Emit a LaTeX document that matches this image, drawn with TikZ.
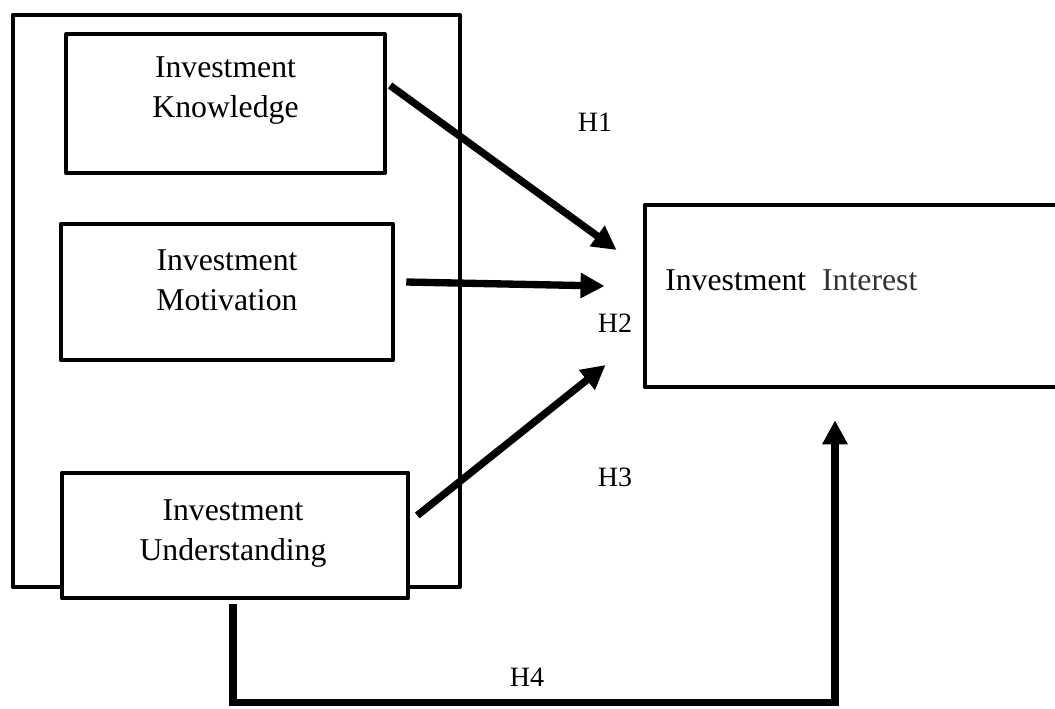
\documentclass[tikz,border=0pt]{standalone}
\usepackage{fontspec}
\setmainfont{Liberation Serif}
\usetikzlibrary{arrows.meta,calc}

\begin{document}
\begin{tikzpicture}[x=0.75pt,y=-0.75pt,
        every node/.style={font=\fontsize{23.8}{30}\selectfont},
        varbox/.style={draw,line width=3.4pt,line join=round,fill=white,inner sep=0pt},
        boxtext/.style={align=center},
        hlabel/.style={font=\fontsize{21}{24}\selectfont},
        arr/.style={line width=5.5pt,-{Triangle[length=18pt,width=18pt]}}]
        \useasboundingbox (0,0) rectangle (1055,708);

        % frame round the independent variables
        \draw[line width=3pt,line join=round] (12.5,15) rectangle (460,587);

        \node[varbox,minimum width=239pt,minimum height=104pt] (know) at (225.5,103.5) {};
        \node[boxtext] at ($(know)+(0,-13)$) {Investment\\Knowledge};

        \node[varbox,minimum width=249pt,minimum height=102pt] (moti) at (227,292) {};
        \node[boxtext] at ($(moti)+(0,-12)$) {Investment\\Motivation};

        \node[varbox,minimum width=259.5pt,minimum height=94pt] (under) at (235,535.5) {};
        \node[boxtext] at ($(under)+(-2,-2)$) {Investment\\Understanding};

        \node[varbox,minimum width=313pt,minimum height=136.5pt] (interest) at (853.5,296) {};
        \node[anchor=west] at ($(interest.west)+(18,-16)$) {Investment\ \ \textcolor{black!80}{Interest}};

        % hypotheses
        \draw[arr] ($(know.east)+(3,-18)$) -- ($(interest.west)+(-26,-46)$);
        \draw[arr] ($(moti.east)+(11,-10)$) -- ($(interest.west)+(-38,-10)$);
        \draw[arr] ($(under.east)+(7,-20)$) -- ($(interest.west)+(-37,69)$);
        \draw[arr] ($(under.south)+(-2,4)$) -- ++(0,98) -| ($(interest.south)+(-18.5,31)$);

        \node[hlabel] (h1) at (595,122) {H1};
        \node[hlabel] (h2) at (615,323) {H2};
        \node[hlabel] (h3) at (615,477) {H3};
        \node[hlabel] (h4) at (527,677) {H4};
    \end{tikzpicture}
\end{document}
